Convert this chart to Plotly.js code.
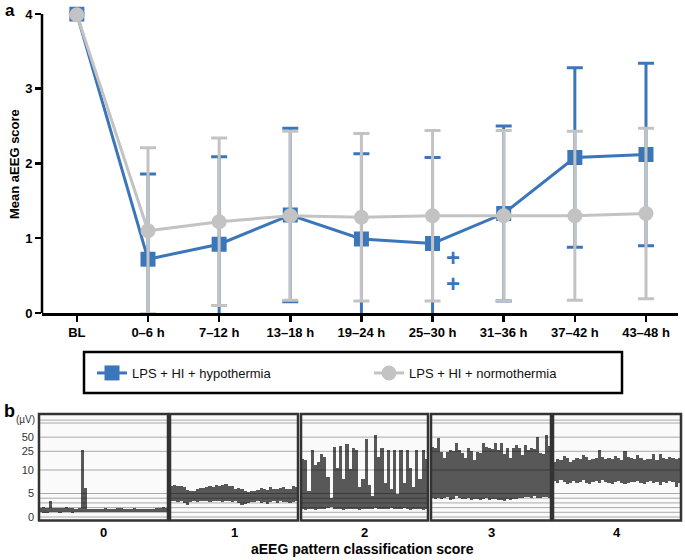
<!DOCTYPE html>
<html><head><meta charset="utf-8">
<script src="https://cdn.plot.ly/plotly-3.0.1.min.js"></script>
<style>html,body{margin:0;padding:0;background:#fff}#chart{width:685px;height:560px}</style>
</head><body><div id="chart"></div>
<script>
// ---------- Panel a data ----------
const timeLabels = ['BL','0–6 h','7–12 h','13–18 h','19–24 h','25–30 h','31–36 h','37–42 h','43–48 h'];
const hypoMean  = [4.00,0.72,0.92,1.31,0.99,0.93,1.33,2.08,2.12];
const hypoSD    = [0,1.14,1.17,1.16,1.14,1.15,1.17,1.20,1.22];
const normoMean = [3.99,1.10,1.22,1.30,1.28,1.30,1.30,1.30,1.33];
const normoSD   = [0,1.11,1.12,1.13,1.12,1.14,1.14,1.13,1.14];
const yTicks = [0,1,2,3,4];
const seriesNames = ['LPS + HI + hypothermia','LPS + HI + normothermia'];

// ---------- Panel b data (aEEG margins, µV) ----------
const scoreLabels = ['0','1','2','3','4'];
const scaleTickValues = [0,5,10,25,50];
const gridValues = [0,1,2,3,4,5,10,25,50,100,115];
const upper0 = [2.0,2.1,2.0,3.4,2.0,1.9,1.9,2.0,2.2,2.0,1.9,1.8,1.9,27,6.2,1.8,1.7,1.8,1.7,1.8,2.0,1.7,1.7,1.8,1.9,2.0,1.7,1.7,1.8,2.0,1.7,1.6,1.7,1.8,1.6,1.7,2.0,1.9,2.1,2.0];
const lower0 = [1.1,0.8,0.8,1.0,1.1,1.0,0.8,1.0,1.1,1.0,0.8,1.0,1.1,1.0,1.0,1.1,1.1,1.0,1.1,1.1,1.0,1.1,1.1,1.0,1.1,1.1,1.1,1.0,1.1,1.1,1.1,1.0,1.1,1.1,1.1,1.0,1.1,1.1,1.1,1.1];
const upper1 = [6.6,6.9,6.7,6.5,6.3,5.8,5.5,5.6,6.0,6.2,6.1,6.4,6.6,6.3,6.8,6.5,6.9,7.1,6.7,6.5,6.0,6.2,6.0,5.6,5.4,5.5,5.6,5.8,6.2,6.0,5.8,6.3,6.0,5.9,6.2,6.4,5.9,6.0,6.5,6.3];
const lower1 = [3.4,3.3,3.2,3.5,3.0,2.6,3.1,3.4,3.2,3.3,3.5,3.4,3.2,3.5,3.4,3.3,3.2,3.4,3.3,3.1,3.3,2.9,2.6,2.7,3.0,3.2,3.1,3.3,3.0,3.2,2.8,3.1,3.3,3.0,3.4,3.2,3.1,3.0,3.2,3.3];
const upper2 = [17,16,5.5,27,13,15,22,19,8.6,4.1,31,10.9,33,8,35,10.5,29,27,6.4,8,45,6.8,4.5,55,19,29,7.3,27,6,27,4.8,27,7.3,27,11,6.4,27,8,27,17];
const lower2 = [1.7,1.5,1.8,1.6,1.4,1.7,1.6,1.8,1.9,2.1,1.7,1.6,1.8,1.5,1.7,1.6,1.8,1.7,1.5,1.6,1.8,1.7,1.6,1.9,1.7,1.6,1.8,1.7,2.0,1.8,1.6,1.7,1.9,1.6,1.5,1.7,1.6,1.8,1.5,1.7];
const upper3 = [31,29,47,24.5,18,24,27,26,37,27,22.6,17.6,29,25,16,24,23,37,31,29,28,37,27,37,22,29,17.6,30,34,29,21,34,27,29,28,51,23,22,55,33];
const lower3 = [4.0,3.8,4.1,3.9,4.0,4.2,3.7,3.9,4.4,4.0,3.8,3.9,4.0,3.7,3.8,3.9,3.6,3.8,4.0,3.7,3.8,3.9,3.6,3.7,3.5,3.8,3.7,3.9,3.8,4.0,4.1,4.3,4.2,4.0,4.4,4.1,4.0,4.2,4.3,4.1];
const upper4 = [15,17,16,20,18,15,16,18,17,21,19,16,17,18,27,19,17,18,17,20,18,16,25,19,18,17,21,18,16,17,17,22,16,22,18,17,19,18,17,18];
const lower4 = [7.6,7.2,7.8,7.4,7.0,7.3,7.6,7.2,7.5,7.8,7.3,7.0,7.4,7.6,7.2,7.8,7.5,7.3,7.1,7.4,7.6,7.2,7.0,7.3,7.5,7.4,7.7,7.3,7.0,7.5,7.6,7.2,7.4,6.9,7.5,7.3,7.7,7.4,6.3,7.2];
const uppers = [upper0,upper1,upper2,upper3,upper4];
const lowers = [lower0,lower1,lower2,lower3,lower4];

// ---------- helpers ----------
const W = 685, H = 560;
const px = x => x / W;
const py = y => 1 - y / H;
// aEEG semi-logarithmic display scale: linear 0–10 µV, log 10–100 µV
const aeeg = v => v <= 10 ? v : 10 * Math.log10(v);

const BLUE = '#3b76bb', GRAY = '#c3c3c3';
const FONT = 'Liberation Sans, Arial, Helvetica, sans-serif';

const traces = [
  {x: timeLabels, y: hypoMean, name: seriesNames[0], type: 'scatter', mode: 'lines+markers',
   line: {color: BLUE, width: 3}, marker: {symbol: 'square', size: 15, color: BLUE},
   error_y: {type: 'data', array: hypoSD, visible: true, color: BLUE, thickness: 3, width: 8},
   xaxis: 'x', yaxis: 'y'},
  {x: timeLabels, y: normoMean, name: seriesNames[1], type: 'scatter', mode: 'lines+markers',
   line: {color: GRAY, width: 3}, marker: {symbol: 'circle', size: 15, color: GRAY},
   error_y: {type: 'data', array: normoSD, visible: true, color: GRAY, thickness: 3, width: 8},
   xaxis: 'x', yaxis: 'y'}
];

// panel b geometry (pixel edges)
const panelEdges = [[39,168],[170,298],[301,428],[431,551],[553,681]];
const pTop = 414, pBot = 520.5, zeroPx = 517, unitPx = 4.7;
const yRange = [-(pBot - zeroPx) / unitPx, (zeroPx - pTop) / unitPx];

const layout = {
  width: W, height: H, margin: {l: 0, r: 0, t: 0, b: 0},
  paper_bgcolor: '#fff', plot_bgcolor: 'rgba(0,0,0,0)',
  font: {family: FONT, color: '#000'},
  showlegend: true,
  legend: {orientation: 'h', x: px(92), y: py(373), xanchor: 'left', yanchor: 'middle',
           font: {family: FONT, size: 13, color: '#111'}, bgcolor: 'rgba(0,0,0,0)', borderwidth: 0,
           entrywidth: 232, entrywidthmode: 'pixels', traceorder: 'normal'},
  xaxis: {domain: [px(42), px(678)], anchor: 'y', type: 'category', range: [-0.49, 8.45],
          showline: true, linecolor: '#000', linewidth: 2.5, ticks: 'outside', ticklen: 6, tickwidth: 2.5,
          tickcolor: '#000', showgrid: false, zeroline: false, fixedrange: true,
          tickfont: {family: FONT, size: 13, weight: 'bold', color: '#000'}},
  yaxis: {domain: [py(313), py(6.5)], anchor: 'x', range: [0, 4.1], tickvals: yTicks,
          showline: false, ticks: 'outside', ticklen: 6, tickwidth: 2.5, tickcolor: '#000',
          showgrid: false, zeroline: false, fixedrange: true,
          tickfont: {family: FONT, size: 13, weight: 'bold', color: '#000'}},
  shapes: [
    {type: 'line', xref: 'paper', yref: 'y', x0: px(42), x1: px(42), y0: 0, y1: 4,
     line: {color: '#000', width: 2.5}},
    {type: 'rect', xref: 'paper', yref: 'paper', x0: px(84), x1: px(622), y0: py(352), y1: py(393),
     line: {color: '#000', width: 2.5}}
  ],
  annotations: [
    {text: 'a', xref: 'paper', yref: 'paper', x: px(3), y: py(-1), xanchor: 'left', yanchor: 'top',
     showarrow: false, font: {family: FONT, size: 17, weight: 'bold'}},
    {text: 'Mean aEEG score', xref: 'paper', yref: 'paper', x: px(14), y: py(164), textangle: -90,
     xanchor: 'center', yanchor: 'middle', showarrow: false, font: {family: FONT, size: 13, weight: 'bold'}},
    {text: '+', xref: 'paper', yref: 'paper', x: px(453), y: py(258), xanchor: 'center', yanchor: 'middle',
     showarrow: false, font: {family: FONT, size: 24, weight: 'bold', color: BLUE}},
    {text: '+', xref: 'paper', yref: 'paper', x: px(453), y: py(283), xanchor: 'center', yanchor: 'middle',
     showarrow: false, font: {family: FONT, size: 24, weight: 'bold', color: BLUE}},
    {text: 'b', xref: 'paper', yref: 'paper', x: px(2), y: py(411), xanchor: 'left', yanchor: 'middle',
     showarrow: false, font: {family: FONT, size: 18, weight: 'bold'}},
    {text: '(µV)', xref: 'paper', yref: 'paper', x: px(37), y: py(419), xanchor: 'right', yanchor: 'middle',
     showarrow: false, font: {family: FONT, size: 10, color: '#333'}},
    {text: 'aEEG pattern classification score', xref: 'paper', yref: 'paper', x: px(362), y: py(549),
     xanchor: 'center', yanchor: 'middle', showarrow: false, font: {family: FONT, size: 14, weight: 'bold'}}
  ]
};

layout.yaxis2 = {domain: [py(pBot), py(pTop)], anchor: 'x2', range: yRange,
  tickvals: scaleTickValues.map(aeeg), ticktext: scaleTickValues.map(String),
  ticks: '', showline: false, showgrid: false, zeroline: false, fixedrange: true, ticklabelstandoff: 4,
  tickfont: {family: FONT, size: 11, color: '#333'}};

scoreLabels.forEach((lab, i) => {
  const xa = 'x' + (i + 2);
  const key = 'xaxis' + (i + 2);
  const n = uppers[i].length;
  layout[key] = {domain: [px(panelEdges[i][0]), px(panelEdges[i][1])], anchor: 'y2', range: [-0.5, n - 0.5],
    showticklabels: false, ticks: '', showline: false, showgrid: false, zeroline: false, fixedrange: true};
  layout.shapes.push({type: 'rect', xref: xa + ' domain', yref: 'y2 domain', x0: 0, x1: 1, y0: 0, y1: 1,
    layer: 'below', line: {width: 0}, fillcolor: '#fafafa'});
  traces.push({type: 'bar', xaxis: xa, yaxis: 'y2', showlegend: false, hoverinfo: 'skip',
    x: uppers[i].map((_, k) => k),
    base: lowers[i].map(aeeg),
    y: uppers[i].map((u, k) => aeeg(u) - aeeg(lowers[i][k])),
    width: 1, marker: {color: '#585858', line: {width: 0}}});
  gridValues.forEach(g => {
    layout.shapes.push({type: 'line', xref: xa + ' domain', yref: 'y2', x0: 0, x1: 1, y0: aeeg(g), y1: aeeg(g),
      layer: 'above', line: {color: 'rgba(0,0,0,0.32)', width: 1}});
  });
  layout.shapes.push({type: 'rect', xref: xa + ' domain', yref: 'y2 domain', x0: 0, x1: 1, y0: 0, y1: 1,
    layer: 'above', line: {color: '#333', width: 2.5}});
  layout.annotations.push({text: lab, xref: xa + ' domain', yref: 'paper', x: 0.5, y: py(532),
    xanchor: 'center', yanchor: 'middle', showarrow: false, font: {family: FONT, size: 13, weight: 'bold'}});
});
layout.bargap = 0;

Plotly.newPlot('chart', traces, layout, {displayModeBar: false, staticPlot: true});
</script></body></html>
